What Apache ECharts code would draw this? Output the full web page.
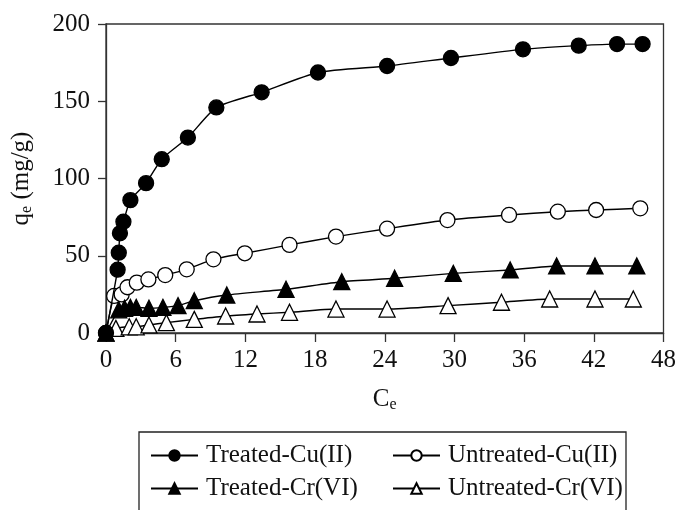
<!DOCTYPE html>
<html>
<head>
<meta charset="utf-8">
<script src="https://cdn.jsdelivr.net/npm/echarts@6/dist/echarts.min.js"></script>
<style>
    html, body { margin: 0; padding: 0; background: #fff; }
    #main { width: 679px; height: 510px; }
</style>
</head>
<body>
<div id="main"></div>
<script>
// 数据
var treatedCuX = [0, 1.0, 1.1, 1.2, 1.5, 2.1, 3.45, 4.8, 7.05, 9.5, 13.4, 18.25, 24.2, 29.7, 35.9, 40.7, 44.0, 46.2]
var treatedCuY = [0, 41, 52, 64.5, 72, 86, 97, 112.5, 126.5, 146, 155.8, 168.6, 172.8, 178, 183.6, 186, 187, 187]

var untreatedCuX = [0, 0.7, 1.35, 1.85, 2.65, 3.65, 5.1, 6.95, 9.25, 11.95, 15.8, 19.8, 24.2, 29.4, 34.7, 38.9, 42.2, 46.0]
var untreatedCuY = [0, 24, 25, 29.6, 32.6, 34.7, 37.5, 41.2, 47.7, 51.6, 57, 62.4, 67.5, 73.1, 76.4, 78.5, 79.6, 80.7]

var treatedCrX = [0, 1.1, 1.6, 2.1, 2.6, 3.7, 4.9, 6.2, 7.6, 10.4, 15.5, 20.3, 24.85, 29.9, 34.8, 38.8, 42.1, 45.7]
var treatedCrY = [0, 15, 16, 16.6, 16.6, 16, 16.6, 17.7, 20.9, 24.6, 28.3, 33.2, 35.4, 38.6, 40.8, 43.4, 43.4, 43.4]

var untreatedCrX = [0, 0.85, 2.0, 2.6, 3.7, 5.2, 7.6, 10.3, 13.0, 15.8, 19.8, 24.2, 29.45, 34.05, 38.2, 42.1, 45.4]
var untreatedCrY = [0, 3, 4, 4, 5.2, 6.7, 8.8, 11, 12.3, 13.4, 15.5, 15.5, 17.7, 19.9, 22, 22, 22]

var seriesNames = ['Treated-Cu(II)', 'Untreated-Cu(II)', 'Treated-Cr(VI)', 'Untreated-Cr(VI)']

var font = '"Liberation Serif", "Times New Roman", serif'
var fs = 25

function pairs(xs, ys) {
    return xs.map(function (x, i) { return [x, ys[i]] })
}

function makeSeries(name, xs, ys, symbol, filled) {
    return {
        name: name,
        type: 'line',
        data: pairs(xs, ys),
        smooth: 0.2,
        symbol: symbol,
        symbolSize: symbol == 'circle' ? 15 : 16,
        showAllSymbol: true,
        lineStyle: { color: '#000', width: 1.4 },
        itemStyle: {
            color: filled ? '#000' : '#fff',
            borderColor: '#000',
            borderWidth: 1.3
        },
        emphasis: { disabled: true },
        z: filled ? 3 : 2
    }
}

// 下标
var subRich = { sub: { fontFamily: font, fontSize: 16, color: '#111', verticalAlign: 'bottom', padding: [11, 0, 0, 0] } }

var myChart = echarts.init(document.getElementById('main'))

var option = {
    backgroundColor: '#fff',
    animation: false,
    textStyle: { fontFamily: font },
    grid: {
        left: 106, right: 15, top: 24, bottom: 177,
        show: true, borderColor: '#333', borderWidth: 1.3
    },
    legend: {
        data: seriesNames,
        left: 139, top: 432,
        width: 480,
        orient: 'horizontal',
        padding: [11, 0, 30, 11],
        itemGap: 8,
        itemWidth: 47,
        itemHeight: 13,
        borderColor: '#222',
        borderWidth: 1.3,
        formatter: function (name) { return '{t|' + name + '}' },
        textStyle: {
            fontFamily: font, fontSize: fs, color: '#111',
            rich: { t: { fontFamily: font, fontSize: fs, color: '#111', width: 178, lineHeight: 25, padding: [0, 0, 0, 3] } }
        }
    },
    xAxis: {
        type: 'value',
        min: 0, max: 48, interval: 6,
        name: 'C{sub|e}',
        nameLocation: 'middle',
        nameGap: 53,
        nameTextStyle: { fontFamily: font, fontSize: fs, color: '#111', rich: subRich },
        axisLine: { lineStyle: { color: '#333', width: 1.3 } },
        axisTick: { inside: false, length: 9, lineStyle: { color: '#333', width: 1.3 } },
        axisLabel: { fontFamily: font, fontSize: fs, color: '#111', margin: 15 },
        splitLine: { show: false }
    },
    yAxis: {
        type: 'value',
        min: 0, max: 200, interval: 50,
        name: 'q{sub|e} (mg/g)',
        nameLocation: 'middle',
        nameGap: 71,
        nameTextStyle: { fontFamily: font, fontSize: fs, color: '#111', rich: subRich },
        axisLine: { show: true, lineStyle: { color: '#333', width: 1.3 } },
        axisTick: { show: true, inside: false, length: 8, lineStyle: { color: '#333', width: 1.3 } },
        axisLabel: { fontFamily: font, fontSize: fs, color: '#111', margin: 16 },
        splitLine: { show: false }
    },
    series: [
        makeSeries(seriesNames[0], treatedCuX, treatedCuY, 'circle', true),
        makeSeries(seriesNames[1], untreatedCuX, untreatedCuY, 'circle', false),
        makeSeries(seriesNames[2], treatedCrX, treatedCrY, 'triangle', true),
        makeSeries(seriesNames[3], untreatedCrX, untreatedCrY, 'triangle', false)
    ]
}

myChart.setOption(option)
</script>
</body>
</html>
